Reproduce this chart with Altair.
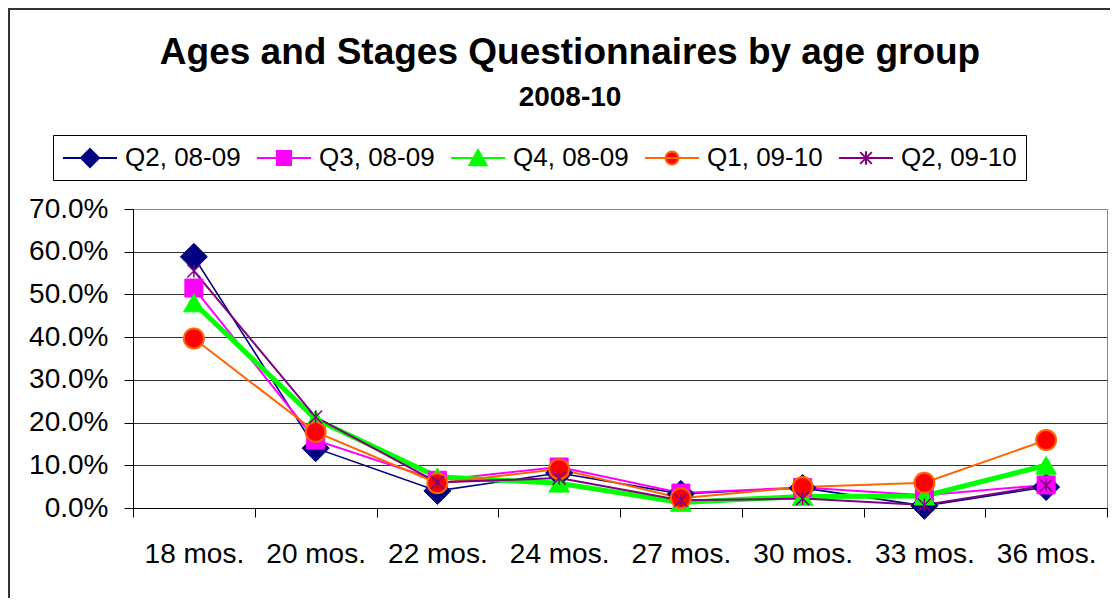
import altair as alt
import pandas as pd

TITLE = "Ages and Stages Questionnaires by age group"
SUBTITLE = "2008-10"

categories = ["18 mos.", "20 mos.", "22 mos.", "24 mos.", "27 mos.",
              "30 mos.", "33 mos.", "36 mos."]
series_names = ["Q2, 08-09", "Q3, 08-09", "Q4, 08-09", "Q1, 09-10", "Q2, 09-10"]

q2_0809 = [0.588, 0.140, 0.040, 0.082, 0.033, 0.047, 0.005, 0.049]
q3_0809 = [0.515, 0.159, 0.065, 0.096, 0.035, 0.048, 0.030, 0.054]
q4_0809 = [0.480, 0.208, 0.073, 0.058, 0.013, 0.027, 0.028, 0.100]
q1_0910 = [0.397, 0.178, 0.058, 0.091, 0.023, 0.049, 0.059, 0.159]
q2_0910 = [0.555, 0.213, 0.060, 0.070, 0.018, 0.022, 0.007, 0.053]

y_ticks = [0.0, 0.1, 0.2, 0.3, 0.4, 0.5, 0.6, 0.7]

all_values = [q2_0809, q3_0809, q4_0809, q1_0910, q2_0910]
rows = []
for name, vals in zip(series_names, all_values):
    for cat, v in zip(categories, vals):
        rows.append({"series": name, "age": cat, "pct": v})
df = pd.DataFrame(rows)

line_colors = ["#000080", "#FF00FF", "#00FF00", "#FF6600", "#800080"]
fill_colors = ["#000080", "#FF00FF", "#00FF00", "#FF0000", "#800080"]
line_widths = [1.6, 2, 5, 2, 2]
STAR = "M-1,-1L1,1M-1,1L1,-1M0,-1L0,1"
shapes = ["diamond", "square", "triangle-up", "circle", STAR]
sizes = [729, 324, 420, 400, 169]
filled = [True, True, True, True, False]
point_stroke_w = [1, 1, 1, 2, 1.5]

# legend symbols: unit radius = 13 px (symbolSize 676); line spans 54 px
legend_paths = [
    "M-2.08,0H2.08M0,-0.69L0.69,0L0,0.69L-0.69,0Z",
    "M-2.08,0H2.08M-0.54,-0.54H0.54V0.54H-0.54Z",
    "M-2.08,0H2.08M0,-0.62L0.66,0.55H-0.66Z",
    "M-2.08,0H2.08M0.5,0A0.5,0.5,0,1,1,-0.5,0A0.5,0.5,0,1,1,0.5,0Z",
    "M-2.08,0H2.08M-0.45,-0.45L0.45,0.45M-0.45,0.45L0.45,-0.45M0,-0.52V0.52",
]
legend_widths = [2, 2, 4, 2, 2]

FONT = "Liberation Sans"

x_enc = alt.X(
    "age:N",
    sort=categories,
    bandPosition=0.5,
    scale=alt.Scale(type="band", domain=categories, paddingInner=0, paddingOuter=0),
    axis=alt.Axis(
        title=None, labelAngle=0, labelFont=FONT, labelFontSize=28, labelColor="black",
        tickBand="extent", tickSize=9, tickColor="black", domainColor="black",
        labelPadding=23, grid=False,
    ),
)
y_enc = alt.Y(
    "pct:Q",
    scale=alt.Scale(domain=[0, 0.7], nice=False, zero=True),
    axis=alt.Axis(
        title=None, values=y_ticks, format=".1%", labelFont=FONT, labelFontSize=28,
        labelColor="black", tickSize=9, tickColor="black", domainColor="black",
        labelPadding=16, grid=True,
        gridColor={"condition": {"test": "datum.value >= 0.7", "value": "#888888"},
                   "value": "#333333"},
        gridWidth=1,
    ),
)

base = alt.Chart(df)

one = alt.Data(values=[{}])
border = alt.Chart(one).mark_rect(fill="transparent", stroke="#333333", strokeWidth=2).encode(
    x=alt.value(-124), x2=alt.value(1400), y=alt.value(-200), y2=alt.value(900)
)
title = alt.Chart(one).mark_text(
    font=FONT, fontSize=37, fontWeight="bold", align="center", baseline="alphabetic", color="black"
).encode(x=alt.value(437), y=alt.value(-145), text=alt.value(TITLE))
subtitle = alt.Chart(one).mark_text(
    font=FONT, fontSize=28, fontWeight="bold", align="center", baseline="alphabetic", color="black"
).encode(x=alt.value(437), y=alt.value(-103), text=alt.value(SUBTITLE))

layers = [border, title, subtitle]
for i, name in enumerate(series_names):
    layers.append(
        base.transform_filter(alt.datum.series == name)
        .mark_line(color=line_colors[i], strokeWidth=line_widths[i])
        .encode(x=x_enc, y=y_enc)
    )
for i, name in enumerate(series_names):
    layers.append(
        base.transform_filter(alt.datum.series == name)
        .mark_point(
            shape=shapes[i], filled=filled[i], fill=fill_colors[i] if filled[i] else "transparent",
            stroke=line_colors[i], strokeWidth=point_stroke_w[i], size=sizes[i], opacity=1,
        )
        .encode(x=x_enc, y=y_enc)
    )

leg = alt.Legend(
    title=None, orient="none", legendX=-80, legendY=-74, direction="horizontal",
    symbolSize=676, symbolOffset=14, labelFont=FONT, labelFontSize=26, labelColor="black",
    labelOffset=21, columnPadding=11, padding=9, strokeColor="#000000", fillColor="white",
    symbolOpacity=1, symbolFillColor="black", symbolStrokeColor="black", labelLimit=400,
)
legend_layer = base.transform_filter("false").mark_point(filled=True).encode(
    x=x_enc, y=y_enc,
    fill=alt.Fill("series:N", scale=alt.Scale(domain=series_names, range=fill_colors), legend=leg),
    stroke=alt.Stroke("series:N", scale=alt.Scale(domain=series_names, range=line_colors), legend=leg),
    shape=alt.Shape("series:N", scale=alt.Scale(domain=series_names, range=legend_paths), legend=leg),
    strokeWidth=alt.StrokeWidth("series:N", scale=alt.Scale(domain=series_names, range=legend_widths), legend=leg),
)
layers.append(legend_layer)

chart = alt.layer(*layers).properties(
    width=974, height=299,
    padding={"left": 125, "top": 201, "right": 3, "bottom": 90},
    autosize=alt.AutoSizeParams(type="none"),
    background="white",
).configure_view(stroke="#888888", strokeWidth=1)

chart.save("out.html", embed_options={"renderer": "svg", "actions": False})
